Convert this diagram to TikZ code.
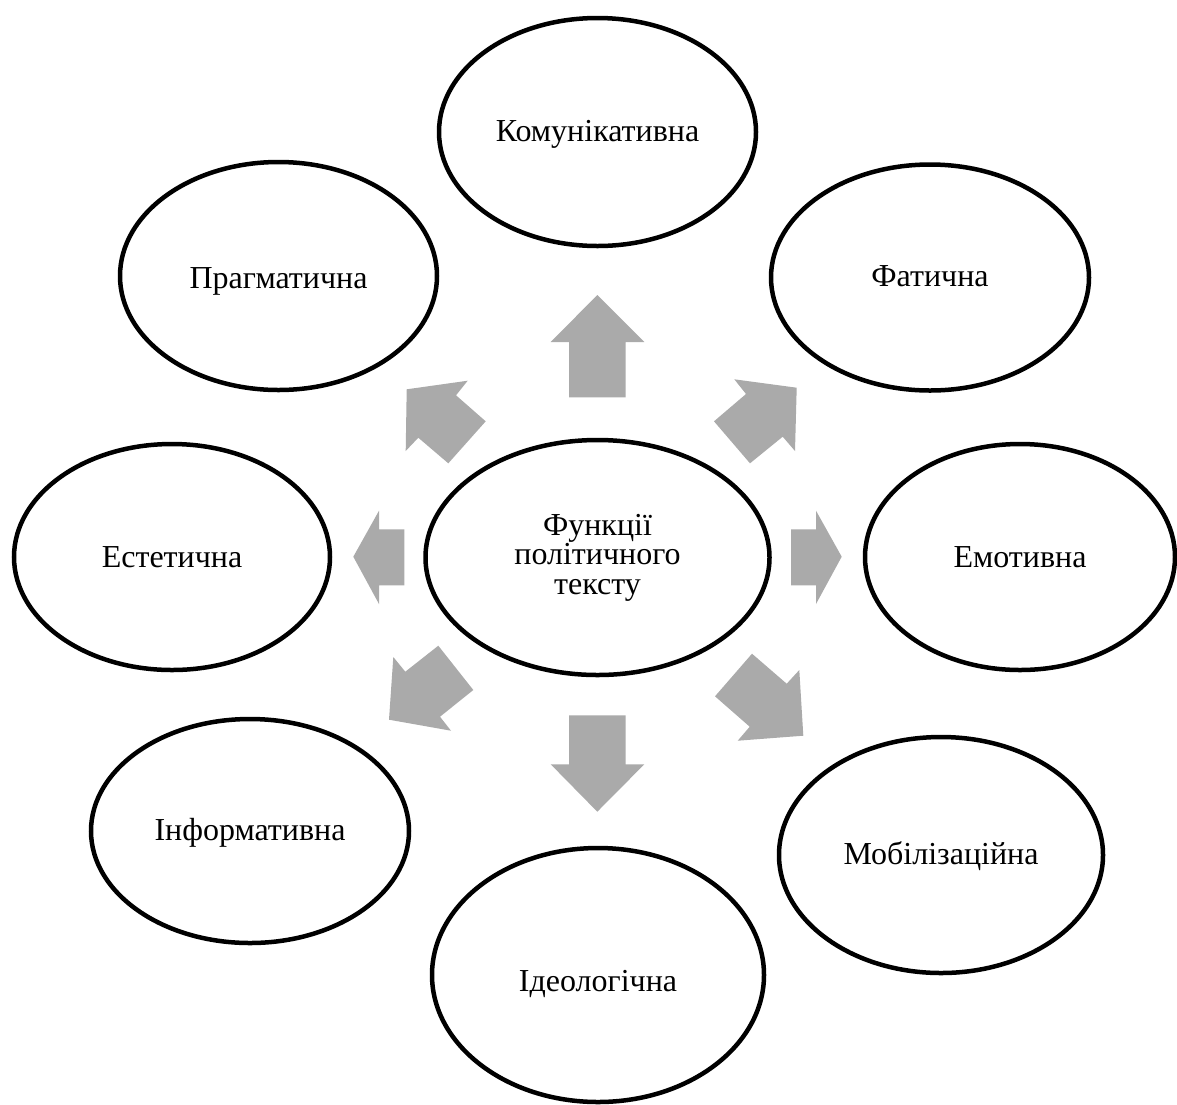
\documentclass[tikz,border=0pt]{standalone}
\usepackage{fontspec}
\setmainfont{Liberation Serif}
\usetikzlibrary{shapes.geometric}
\definecolor{arrowgray}{HTML}{AAAAAA}
\begin{document}
\begin{tikzpicture}[x=1pt,y=-1pt,
  func/.style={ellipse, draw=black, line width=4.5pt, inner sep=0pt,
    font=\fontsize{32}{29.5}\selectfont, align=center},
  lbl/.style={font=\fontsize{32}{29.5}\selectfont, inner sep=0pt},
  blockarrow/.style={fill=arrowgray, draw=none}]
\useasboundingbox[fill=white] (0,0) rectangle (1177,1104);

% ellipses
\node[func, minimum width=344pt, minimum height=235pt] (c) at (597.5,557.5) {Функції\\політичного\\тексту};
\node[func, minimum width=317pt, minimum height=228pt,
  label={[lbl,yshift=-2pt]center:Комунікативна}] (kom) at (597.5,132) {};
\node[func, minimum width=318pt, minimum height=226pt,
  label={[lbl,yshift=1pt]center:Фатична}] (fat) at (930,277.5) {};
\node[func, minimum width=310pt, minimum height=226pt,
  label={[lbl]center:Емотивна}] (emo) at (1020,557) {};
\node[func, minimum width=324pt, minimum height=236pt,
  label={[lbl,yshift=-1pt]center:Мобілізаційна}] (mob) at (941,855) {};
\node[func, minimum width=332pt, minimum height=254pt,
  label={[lbl,yshift=-9pt]center:Ідеологічна}] (ide) at (598,975) {};
\node[func, minimum width=318pt, minimum height=224pt,
  label={[lbl,yshift=-2pt]center:Інформативна}] (inf) at (250,831) {};
\node[func, minimum width=316pt, minimum height=226pt,
  label={[lbl]center:Естетична}] (est) at (172,557) {};
\node[func, minimum width=317pt, minimum height=228pt,
  label={[lbl,yshift=-5pt]center:Прагматична}] (pra) at (278.5,276) {};

% block arrows
\fill[blockarrow] (597.3,295) -- (644.3,342) -- (625.7,342) -- (625.7,397.3) -- (569,397.3) -- (569,342) -- (550.7,342) -- cycle;
\fill[blockarrow] (597.3,811.7) -- (644.3,764.3) -- (625.7,764.3) -- (625.7,715.3) -- (569,715.3) -- (569,764.3) -- (550.7,764.3) -- cycle;
\fill[blockarrow] (353.3,556.7) -- (379,510.7) -- (379,529.3) -- (404.3,529.3) -- (404.3,585.3) -- (379,585.3) -- (379,604) -- cycle;
\fill[blockarrow] (841.7,556.7) -- (816,510.7) -- (816,529.3) -- (791,529.3) -- (791,585.3) -- (816,585.3) -- (816,604) -- cycle;
\fill[blockarrow] (406.7,389.3) -- (467.7,380.7) -- (456,395.3) -- (485.7,421.3) -- (448.3,463.3) -- (418.3,437.7) -- (405.7,451) -- cycle;
\fill[blockarrow] (734.3,379.3) -- (796.7,387.7) -- (795,451) -- (782.7,436.7) -- (750,463.3) -- (714,421.3) -- (746,394) -- cycle;
\fill[blockarrow] (393.3,657) -- (405.3,671.7) -- (438.3,645.7) -- (473.3,690) -- (440,716.7) -- (451,730.7) -- (389,719.7) -- cycle;
\fill[blockarrow] (752,653.7) -- (786.7,683.7) -- (799.3,670) -- (803.3,735.7) -- (737.7,740.7) -- (749.7,726.7) -- (715,696.3) -- cycle;
\end{tikzpicture}
\end{document}
